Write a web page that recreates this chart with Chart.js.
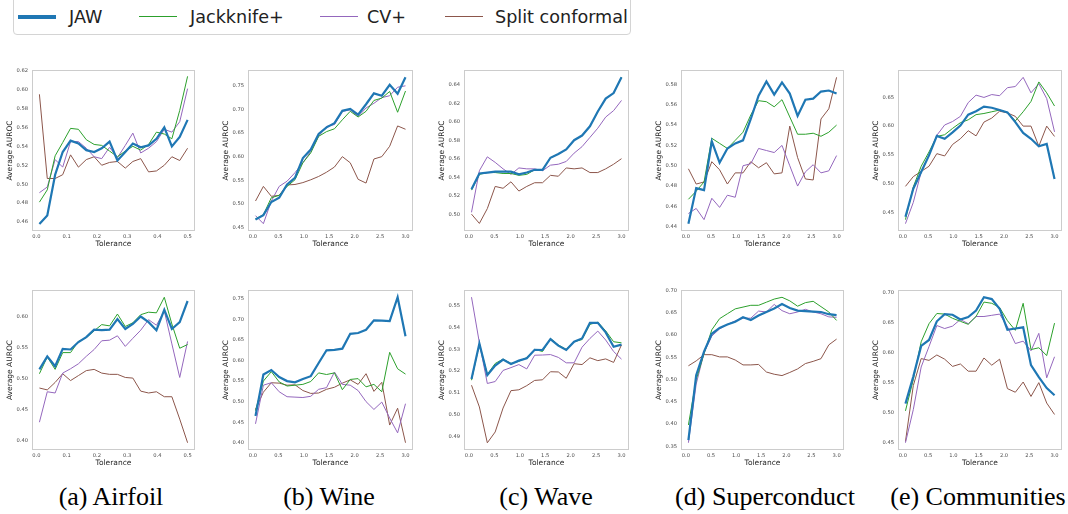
<!DOCTYPE html>
<html lang="en">
<head>
  <meta charset="UTF-8">
  <title>Average AUROC vs tolerance</title>
  <style>
    body {
      margin: 0;
      width: 1068px;
      height: 514px;
      overflow: hidden;
      position: relative;
      background: #fff;
      font-family: 'DejaVu Sans', sans-serif;
    }

    .legend {
      position: absolute;
      left: 13px;
      top: -4px;
      width: 618px;
      height: 39px;
      border: 1px solid #d4d4d4;
      border-radius: 4px;
      box-sizing: border-box;
    }

    .legend-line {
      position: absolute;
    }

    .legend-text {
      position: absolute;
      top: 7px;
      font-size: 17.6px;
      line-height: 20px;
      color: #222;
      white-space: nowrap;
    }

    .panel {
      position: absolute;
    }

    .caption {
      position: absolute;
      top: 484px;
      font-family: 'Liberation Serif', 'DejaVu Serif', serif;
      font-size: 26px;
      line-height: 26px;
      color: #000;
      white-space: nowrap;
      transform: translateX(-50%);
    }
  </style>
</head>
<body>
  <div class="legend" id="legend"></div>

  <script src="https://cdn.jsdelivr.net/npm/chart.js"></script>
  <script>
    // series
    const seriesNames = ['JAW', 'Jackknife+', 'CV+', 'Split conformal'];
    const seriesColors = ['#1f77b4', '#2ca02c', '#9467bd', '#8c564b'];

    // tolerance grids (x values)
    const tolSmall = [0.010, 0.036, 0.062, 0.087, 0.113, 0.139, 0.165, 0.191, 0.216, 0.242,
                      0.268, 0.294, 0.319, 0.345, 0.371, 0.397, 0.423, 0.448, 0.474, 0.500];
    const tolWide = [0.050, 0.205, 0.361, 0.516, 0.671, 0.826, 0.982, 1.137, 1.292, 1.447,
                     1.603, 1.758, 1.913, 2.068, 2.224, 2.379, 2.534, 2.689, 2.845, 3.000];

    // tick labels
    const xTicksSmall = [0.0, 0.1, 0.2, 0.3, 0.4, 0.5];
    const xTicksWide = [0.0, 0.5, 1.0, 1.5, 2.0, 2.5, 3.0];
    const yTicksAirfoilTop = [0.46, 0.48, 0.50, 0.52, 0.54, 0.56, 0.58, 0.60, 0.62];
    const yTicksWineTop = [0.45, 0.50, 0.55, 0.60, 0.65, 0.70, 0.75];
    const yTicksWaveTop = [0.50, 0.52, 0.54, 0.56, 0.58, 0.60, 0.62, 0.64];
    const yTicksSuperTop = [0.44, 0.46, 0.48, 0.50, 0.52, 0.54, 0.56, 0.58];
    const yTicksCommTop = [0.45, 0.50, 0.55, 0.60, 0.65];
    const yTicksAirfoilBottom = [0.40, 0.45, 0.50, 0.55, 0.60];
    const yTicksWineBottom = [0.40, 0.45, 0.50, 0.55, 0.60, 0.65, 0.70, 0.75];
    const yTicksWaveBottom = [0.49, 0.50, 0.51, 0.52, 0.53, 0.54, 0.55];
    const yTicksSuperBottom = [0.35, 0.40, 0.45, 0.50, 0.55, 0.60, 0.65, 0.70];
    const yTicksCommBottom = [0.45, 0.50, 0.55, 0.60, 0.65, 0.70];

    // (a) Airfoil, top row
    const airfoilTopJaw = [0.458, 0.467, 0.510, 0.534, 0.546, 0.543, 0.536, 0.534, 0.538, 0.545, 0.525, 0.534, 0.543, 0.539, 0.541, 0.548, 0.560, 0.540, 0.550, 0.568];
    const airfoilTopJack = [0.481, 0.494, 0.530, 0.544, 0.559, 0.558, 0.547, 0.542, 0.541, 0.535, 0.529, 0.535, 0.540, 0.536, 0.542, 0.555, 0.553, 0.548, 0.578, 0.614];
    const airfoilTopCv = [0.491, 0.497, 0.526, 0.518, 0.545, 0.545, 0.538, 0.529, 0.527, 0.539, 0.528, 0.541, 0.554, 0.533, 0.538, 0.545, 0.558, 0.555, 0.566, 0.601];
    const airfoilTopSplit = [0.595, 0.506, 0.506, 0.510, 0.531, 0.518, 0.526, 0.529, 0.520, 0.523, 0.524, 0.517, 0.524, 0.527, 0.513, 0.514, 0.520, 0.529, 0.525, 0.538];

    // (b) Wine, top row
    const wineTopJaw = [0.467, 0.476, 0.504, 0.513, 0.541, 0.555, 0.597, 0.615, 0.648, 0.662, 0.671, 0.697, 0.701, 0.689, 0.711, 0.734, 0.729, 0.752, 0.733, 0.768];
    const wineTopJack = [0.468, 0.477, 0.513, 0.518, 0.537, 0.551, 0.587, 0.608, 0.643, 0.653, 0.659, 0.678, 0.696, 0.684, 0.696, 0.719, 0.724, 0.738, 0.694, 0.739];
    const wineTopCv = [0.475, 0.458, 0.506, 0.537, 0.548, 0.566, 0.587, 0.611, 0.643, 0.664, 0.668, 0.696, 0.699, 0.685, 0.703, 0.713, 0.725, 0.729, 0.747, 0.750];
    const wineTopSplit = [0.506, 0.537, 0.516, 0.518, 0.540, 0.541, 0.545, 0.551, 0.558, 0.567, 0.578, 0.600, 0.587, 0.552, 0.544, 0.595, 0.600, 0.622, 0.665, 0.658];

    // (c) Wave, top row
    const waveTopJaw = [0.527, 0.544, 0.545, 0.546, 0.546, 0.546, 0.543, 0.545, 0.548, 0.548, 0.561, 0.565, 0.570, 0.580, 0.585, 0.595, 0.611, 0.625, 0.631, 0.648];
    const waveTopJack = [0.526, 0.543, 0.545, 0.545, 0.544, 0.544, 0.542, 0.543, 0.548, 0.548, 0.561, 0.565, 0.570, 0.580, 0.585, 0.595, 0.611, 0.625, 0.631, 0.648];
    const waveTopCv = [0.502, 0.547, 0.562, 0.556, 0.549, 0.543, 0.550, 0.549, 0.549, 0.547, 0.553, 0.554, 0.557, 0.566, 0.573, 0.583, 0.593, 0.605, 0.612, 0.623];
    const waveTopSplit = [0.500, 0.490, 0.506, 0.530, 0.528, 0.535, 0.525, 0.530, 0.534, 0.534, 0.542, 0.541, 0.550, 0.549, 0.550, 0.545, 0.545, 0.549, 0.554, 0.560];

    // (d) Superconduct, top row
    const superTopJaw = [0.443, 0.478, 0.476, 0.524, 0.503, 0.517, 0.522, 0.525, 0.546, 0.569, 0.583, 0.570, 0.582, 0.571, 0.549, 0.565, 0.566, 0.573, 0.574, 0.571];
    const superTopJack = [0.467, 0.475, 0.484, 0.527, 0.522, 0.517, 0.525, 0.533, 0.550, 0.564, 0.563, 0.558, 0.565, 0.548, 0.531, 0.531, 0.532, 0.529, 0.533, 0.540];
    const superTopCv = [0.453, 0.458, 0.447, 0.468, 0.459, 0.471, 0.469, 0.500, 0.502, 0.517, 0.515, 0.513, 0.520, 0.500, 0.480, 0.494, 0.501, 0.493, 0.495, 0.510];
    const superTopSplit = [0.497, 0.482, 0.484, 0.504, 0.496, 0.482, 0.493, 0.493, 0.504, 0.498, 0.503, 0.492, 0.493, 0.539, 0.508, 0.487, 0.486, 0.546, 0.556, 0.587];

    // (e) Communities, top row
    const commTopJaw = [0.442, 0.491, 0.520, 0.549, 0.583, 0.578, 0.589, 0.601, 0.620, 0.626, 0.634, 0.632, 0.628, 0.624, 0.607, 0.588, 0.578, 0.565, 0.569, 0.508];
    const commTopJack = [0.437, 0.494, 0.530, 0.555, 0.582, 0.585, 0.596, 0.606, 0.611, 0.620, 0.622, 0.625, 0.628, 0.624, 0.609, 0.625, 0.643, 0.677, 0.658, 0.635];
    const commTopCv = [0.430, 0.467, 0.520, 0.550, 0.584, 0.602, 0.608, 0.617, 0.641, 0.654, 0.650, 0.655, 0.653, 0.667, 0.669, 0.685, 0.658, 0.674, 0.648, 0.590];
    const commTopSplit = [0.495, 0.512, 0.521, 0.530, 0.552, 0.548, 0.568, 0.578, 0.592, 0.583, 0.607, 0.614, 0.626, 0.623, 0.617, 0.600, 0.600, 0.565, 0.600, 0.582];

    // (a) Airfoil, bottom row
    const airfoilBotJaw = [0.515, 0.536, 0.520, 0.548, 0.547, 0.559, 0.567, 0.579, 0.578, 0.579, 0.596, 0.580, 0.588, 0.600, 0.591, 0.578, 0.611, 0.580, 0.591, 0.625];
    const airfoilBotJack = [0.508, 0.535, 0.515, 0.542, 0.542, 0.560, 0.566, 0.577, 0.587, 0.585, 0.604, 0.584, 0.590, 0.603, 0.607, 0.606, 0.631, 0.588, 0.549, 0.555];
    const airfoilBotCv = [0.430, 0.479, 0.477, 0.509, 0.516, 0.524, 0.536, 0.547, 0.561, 0.562, 0.569, 0.552, 0.565, 0.578, 0.595, 0.586, 0.609, 0.556, 0.502, 0.560];
    const airfoilBotSplit = [0.485, 0.482, 0.494, 0.508, 0.497, 0.505, 0.513, 0.515, 0.509, 0.507, 0.507, 0.502, 0.501, 0.480, 0.477, 0.479, 0.471, 0.471, 0.435, 0.397];

    // (b) Wine, bottom row
    const wineBotJaw = [0.465, 0.566, 0.577, 0.560, 0.550, 0.547, 0.555, 0.562, 0.594, 0.625, 0.626, 0.629, 0.665, 0.667, 0.675, 0.698, 0.697, 0.696, 0.754, 0.659];
    const wineBotJack = [0.478, 0.550, 0.573, 0.548, 0.538, 0.540, 0.542, 0.549, 0.570, 0.566, 0.570, 0.529, 0.554, 0.556, 0.536, 0.542, 0.524, 0.620, 0.580, 0.567];
    const wineBotCv = [0.446, 0.540, 0.546, 0.524, 0.512, 0.511, 0.510, 0.513, 0.530, 0.534, 0.572, 0.542, 0.540, 0.527, 0.500, 0.481, 0.499, 0.460, 0.424, 0.495];
    const wineBotSplit = [0.481, 0.523, 0.546, 0.545, 0.540, 0.541, 0.527, 0.520, 0.521, 0.530, 0.535, 0.545, 0.553, 0.542, 0.568, 0.525, 0.547, 0.443, 0.484, 0.400];

    // (c) Wave, bottom row
    const waveBotJaw = [0.5164, 0.5327, 0.5181, 0.5225, 0.5253, 0.5233, 0.5248, 0.5259, 0.5298, 0.5297, 0.5347, 0.5317, 0.5297, 0.5335, 0.5350, 0.5422, 0.5422, 0.5378, 0.5312, 0.5322];
    const waveBotJack = [0.5158, 0.5325, 0.5185, 0.5235, 0.5255, 0.5235, 0.5245, 0.5262, 0.5300, 0.5290, 0.5350, 0.5320, 0.5300, 0.5335, 0.5345, 0.5415, 0.5425, 0.5385, 0.5335, 0.5330];
    const waveBotCv = [0.5540, 0.5330, 0.5143, 0.5152, 0.5203, 0.5216, 0.5230, 0.5210, 0.5273, 0.5274, 0.5276, 0.5263, 0.5238, 0.5238, 0.5310, 0.5350, 0.5384, 0.5343, 0.5290, 0.5255];
    const waveBotSplit = [0.5135, 0.5035, 0.4870, 0.4920, 0.5030, 0.5110, 0.5114, 0.5133, 0.5157, 0.5160, 0.5197, 0.5196, 0.5167, 0.5234, 0.5230, 0.5261, 0.5248, 0.5256, 0.5240, 0.5321];

    // (d) Superconduct, bottom row
    const superBotJaw = [0.364, 0.510, 0.563, 0.603, 0.616, 0.624, 0.630, 0.640, 0.634, 0.644, 0.652, 0.660, 0.670, 0.661, 0.655, 0.654, 0.653, 0.652, 0.647, 0.645];
    const superBotJack = [0.398, 0.500, 0.558, 0.612, 0.637, 0.648, 0.659, 0.663, 0.667, 0.667, 0.674, 0.681, 0.685, 0.677, 0.665, 0.673, 0.676, 0.664, 0.652, 0.633];
    const superBotCv = [0.358, 0.490, 0.560, 0.598, 0.614, 0.624, 0.632, 0.638, 0.638, 0.654, 0.652, 0.669, 0.655, 0.648, 0.652, 0.658, 0.652, 0.648, 0.641, 0.640];
    const superBotSplit = [0.531, 0.542, 0.556, 0.556, 0.551, 0.551, 0.544, 0.533, 0.533, 0.534, 0.517, 0.512, 0.509, 0.516, 0.524, 0.536, 0.541, 0.547, 0.578, 0.591];

    // (e) Communities, bottom row
    const commBotJaw = [0.515, 0.560, 0.611, 0.621, 0.652, 0.664, 0.663, 0.655, 0.659, 0.670, 0.692, 0.689, 0.673, 0.638, 0.640, 0.642, 0.579, 0.559, 0.541, 0.529];
    const commBotJack = [0.503, 0.555, 0.618, 0.648, 0.665, 0.664, 0.657, 0.652, 0.647, 0.660, 0.684, 0.682, 0.675, 0.653, 0.637, 0.682, 0.605, 0.608, 0.595, 0.649];
    const commBotCv = [0.450, 0.505, 0.576, 0.610, 0.645, 0.640, 0.644, 0.655, 0.648, 0.660, 0.660, 0.662, 0.664, 0.643, 0.615, 0.619, 0.603, 0.632, 0.558, 0.593];
    const commBotSplit = [0.452, 0.545, 0.590, 0.587, 0.596, 0.589, 0.577, 0.581, 0.569, 0.569, 0.591, 0.579, 0.589, 0.540, 0.534, 0.551, 0.527, 0.550, 0.516, 0.497];

    const captions = ['(a) Airfoil', '(b) Wine', '(c) Wave', '(d) Superconduct', '(e) Communities'];

    // layout: plot box = [left, top, width, height] in page pixels
    const captionCenters = [111, 329, 546, 765, 978];
    const colBoxes = [[32, 163], [248, 165], [464, 165], [681, 163], [898, 164]];
    const rowBoxes = [[70, 161], [290, 160]];
    const smallRange = [-0.0145, 0.5245];
    const wideRange = [-0.0975, 3.1475];

    const panels = [
      { col: 0, row: 0, xs: tolSmall, xr: smallRange, xt: xTicksSmall, yr: [0.4505, 0.6207], yt: yTicksAirfoilTop, ys: [airfoilTopJaw, airfoilTopJack, airfoilTopCv, airfoilTopSplit] },
      { col: 1, row: 0, xs: tolWide, xr: wideRange, xt: xTicksWide, yr: [0.4425, 0.7835], yt: yTicksWineTop, ys: [wineTopJaw, wineTopJack, wineTopCv, wineTopSplit] },
      { col: 2, row: 0, xs: tolWide, xr: wideRange, xt: xTicksWide, yr: [0.4818, 0.6559], yt: yTicksWaveTop, ys: [waveTopJaw, waveTopJack, waveTopCv, waveTopSplit] },
      { col: 3, row: 0, xs: tolWide, xr: wideRange, xt: xTicksWide, yr: [0.4358, 0.5942], yt: yTicksSuperTop, ys: [superTopJaw, superTopJack, superTopCv, superTopSplit] },
      { col: 4, row: 0, xs: tolWide, xr: wideRange, xt: xTicksWide, yr: [0.4172, 0.6978], yt: yTicksCommTop, ys: [commTopJaw, commTopJack, commTopCv, commTopSplit] },
      { col: 0, row: 1, xs: tolSmall, xr: smallRange, xt: xTicksSmall, yr: [0.3853, 0.6427], yt: yTicksAirfoilBottom, ys: [airfoilBotJaw, airfoilBotJack, airfoilBotCv, airfoilBotSplit] },
      { col: 1, row: 1, xs: tolWide, xr: wideRange, xt: xTicksWide, yr: [0.3823, 0.7717], yt: yTicksWineBottom, ys: [wineBotJaw, wineBotJack, wineBotCv, wineBotSplit] },
      { col: 2, row: 1, xs: tolWide, xr: wideRange, xt: xTicksWide, yr: [0.4837, 0.5573], yt: yTicksWaveBottom, ys: [waveBotJaw, waveBotJack, waveBotCv, waveBotSplit] },
      { col: 3, row: 1, xs: tolWide, xr: wideRange, xt: xTicksWide, yr: [0.3417, 0.7014], yt: yTicksSuperBottom, ys: [superBotJaw, superBotJack, superBotCv, superBotSplit] },
      { col: 4, row: 1, xs: tolWide, xr: wideRange, xt: xTicksWide, yr: [0.4379, 0.7041], yt: yTicksCommBottom, ys: [commBotJaw, commBotJack, commBotCv, commBotSplit] }
    ];

    const Y_AXIS_W = 32;
    const X_AXIS_H = 20;
    const PAD_TOP = 4;
    const PAD_RIGHT = 4;

    // light grey box round each plot area, like the matplotlib spines
    const framePlugin = {
      id: 'frame',
      afterDraw(chart) {
        const a = chart.chartArea;
        const c = chart.ctx;
        c.save();
        c.strokeStyle = '#cccccc';
        c.lineWidth = 1;
        c.strokeRect(Math.round(a.left) + 0.5, Math.round(a.top) + 0.5,
                     Math.round(a.right - a.left) - 1, Math.round(a.bottom - a.top) - 1);
        c.restore();
      }
    };

    // legend
    const legend = document.getElementById('legend');
    const legendLineX = [4, 125, 306, 431];
    const legendTextX = [55, 176, 353, 481];
    seriesNames.forEach((name, i) => {
      const line = document.createElement('div');
      line.className = 'legend-line';
      const h = i === 0 ? 4 : 1.8;
      line.style.left = legendLineX[i] + 'px';
      line.style.width = '38px';
      line.style.height = h + 'px';
      line.style.top = (19.5 - h / 2) + 'px';
      line.style.background = seriesColors[i];
      legend.appendChild(line);

      const txt = document.createElement('div');
      txt.className = 'legend-text';
      txt.style.left = legendTextX[i] + 'px';
      txt.style.top = '10px';
      txt.textContent = name;
      legend.appendChild(txt);
    });

    // captions
    captions.forEach((t, i) => {
      const d = document.createElement('div');
      d.className = 'caption';
      d.style.left = captionCenters[i] + 'px';
      d.textContent = t;
      document.body.appendChild(d);
    });

    const tickFont = { family: "'DejaVu Sans', sans-serif", size: 5.2 };
    const titleFont = { family: "'DejaVu Sans', sans-serif", size: 7.5 };

    panels.forEach(p => {
      const [boxLeft, boxW] = colBoxes[p.col];
      const [boxTop, boxH] = rowBoxes[p.row];
      const wrap = document.createElement('div');
      wrap.className = 'panel';
      const w = boxW + Y_AXIS_W + PAD_RIGHT;
      const h = boxH + PAD_TOP + X_AXIS_H;
      wrap.style.left = (boxLeft - Y_AXIS_W) + 'px';
      wrap.style.top = (boxTop - PAD_TOP) + 'px';
      wrap.style.width = w + 'px';
      wrap.style.height = h + 'px';
      const canvas = document.createElement('canvas');
      canvas.width = w;
      canvas.height = h;
      wrap.appendChild(canvas);
      document.body.appendChild(wrap);

      const datasets = p.ys.map((vals, i) => ({
        label: seriesNames[i],
        data: vals.map((v, k) => ({ x: p.xs[k], y: v })),
        borderColor: seriesColors[i],
        backgroundColor: seriesColors[i],
        borderWidth: i === 0 ? 2.2 : 1,
        pointRadius: 0,
        tension: 0,
        fill: false
      }));

      new Chart(canvas, {
        type: 'line',
        data: { datasets },
        plugins: [framePlugin],
        options: {
          responsive: false,
          animation: false,
          devicePixelRatio: 1,
          layout: { padding: { top: PAD_TOP, right: PAD_RIGHT, left: 0, bottom: 0 } },
          plugins: { legend: { display: false }, tooltip: { enabled: false } },
          scales: {
            x: {
              type: 'linear',
              min: p.xr[0],
              max: p.xr[1],
              afterBuildTicks: s => { s.ticks = p.xt.map(v => ({ value: v })); },
              afterFit: s => { s.height = X_AXIS_H; s.paddingLeft = 0; s.paddingRight = 0; },
              grid: { display: false, drawTicks: false },
              border: { display: false },
              ticks: {
                font: tickFont, color: '#4d4d4d', padding: 3, maxRotation: 0, autoSkip: false,
                callback: v => Number(v).toFixed(1)
              },
              title: { display: true, text: 'Tolerance', font: titleFont, color: '#262626', padding: { top: 0, bottom: 2.5 } }
            },
            y: {
              type: 'linear',
              min: p.yr[0],
              max: p.yr[1],
              afterBuildTicks: s => { s.ticks = p.yt.map(v => ({ value: v })); },
              afterFit: s => { s.width = Y_AXIS_W; s.paddingTop = 0; s.paddingBottom = 0; },
              grid: { display: false, drawTicks: false },
              border: { display: false },
              ticks: {
                font: tickFont, color: '#4d4d4d', padding: 4, autoSkip: false,
                callback: v => Number(v).toFixed(2)
              },
              title: { display: true, text: 'Average AUROC', font: titleFont, color: '#262626', padding: { top: 5.5, bottom: 0 } }
            }
          }
        }
      });
    });
  </script>
</body>
</html>
